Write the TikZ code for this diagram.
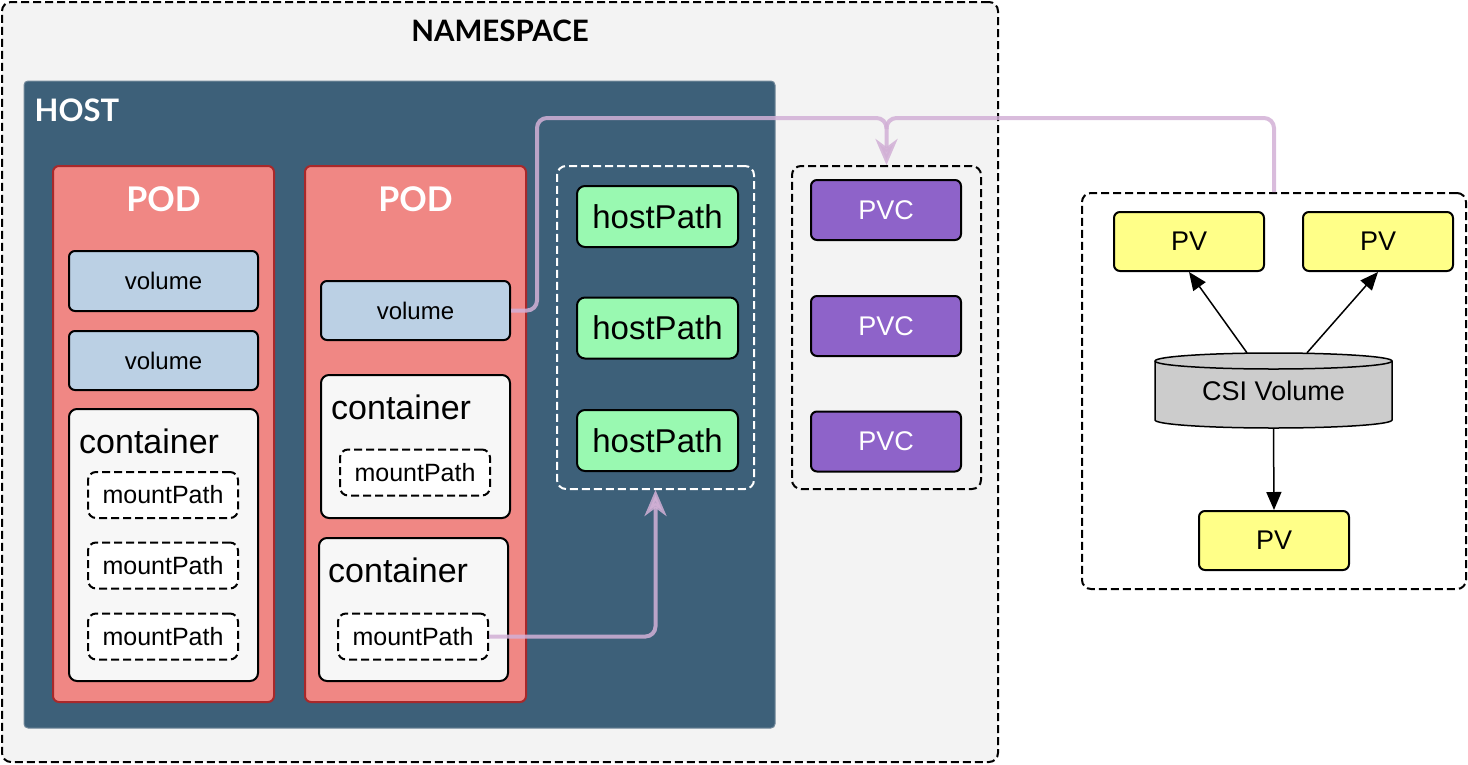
\documentclass[tikz,border=0pt]{standalone}
\usepackage{fontspec}
\setmainfont{Liberation Sans}
\newfontfamily\titlefont{Lato}
\usepackage{tikz}
\usetikzlibrary{positioning,arrows.meta}
\definecolor{nsfill}{HTML}{F3F3F3}
\definecolor{hostfill}{HTML}{3D6079}
\definecolor{hostline}{HTML}{71889A}
\definecolor{podfill}{HTML}{F08784}
\definecolor{podline}{HTML}{A8282A}
\definecolor{volfill}{HTML}{BBD0E4}
\definecolor{ctrfill}{HTML}{F7F7F7}
\definecolor{hpfill}{HTML}{99F9B1}
\definecolor{pvcfill}{HTML}{8E63C9}
\definecolor{pvfill}{HTML}{FFFF88}
\definecolor{cylfill}{HTML}{CCCCCC}
\definecolor{linkc}{HTML}{D2B0D6}
\tikzset{ttl/.style={font=\titlefont\bfseries\fontsize{34}{36}\selectfont,text=white,inner sep=0pt}}

\begin{document}
\begin{tikzpicture}[x=1pt,y=-1pt]
\tikzstyle{box}=[draw,line width=2pt,rounded corners=6pt,inner sep=0pt]
\tikzstyle{grp}=[box,dash pattern=on 8pt off 4pt,rounded corners=9pt]
\tikzstyle{volbox}=[box,fill=volfill,minimum width=189pt,font=\fontsize{24}{26}\selectfont]
\tikzstyle{ctrbox}=[box,fill=ctrfill,rounded corners=8pt,minimum width=189pt]
\tikzstyle{mntbox}=[grp,fill=white,rounded corners=8pt,minimum width=150pt,minimum height=46pt,font=\fontsize{25}{27}\selectfont]
\tikzstyle{ctrtxt}=[anchor=west,inner sep=0pt,font=\fontsize{34}{36}\selectfont]
\tikzstyle{hpbox}=[box,fill=hpfill,rounded corners=8pt,minimum width=161pt,minimum height=61pt,font=\fontsize{33}{35}\selectfont]
\tikzstyle{pvcbox}=[box,fill=pvcfill,minimum width=150pt,minimum height=60pt,text=white,font=\fontsize{27}{29}\selectfont]
\tikzstyle{pvbox}=[box,fill=pvfill,minimum width=150pt,minimum height=59pt,font=\fontsize{27}{29}\selectfont]
\tikzstyle{link}=[draw=linkc,draw opacity=0.85,fill opacity=0.85,line width=4pt,-{Stealth[length=26pt,width=22pt,inset=8pt,fill=linkc]}]
\tikzstyle{flow}=[line width=1.5pt,-{Triangle[length=18pt,width=15pt]}]

\useasboundingbox (0,0) rectangle (1468,764);

% namespace and host
\node[grp,fill=nsfill,minimum width=996pt,minimum height=760pt] (ns) at (500,382) {};
\node[ttl,text=black,font=\titlefont\bfseries\fontsize{29.5}{31}\selectfont] (nstitle) at ([yshift=-30pt]ns.north) {NAMESPACE};
\node[box,draw=hostline,line width=1pt,rounded corners=4pt,fill=hostfill,minimum width=751pt,minimum height=647pt] (host) at (399.5,404.5) {};
\node[ttl,anchor=west,font=\titlefont\bfseries\fontsize{31}{33}\selectfont] (hosttitle) at ([shift={(11pt,-30pt)}]host.north west) {HOST};

% pods
\node[box,draw=podline,fill=podfill,minimum width=221pt,minimum height=536pt] (pod1) at (163.5,434) {};
\node[box,draw=podline,fill=podfill,minimum width=221pt,minimum height=536pt] (pod2) at (415.5,434) {};
\node[ttl] (pod1title) at ([yshift=-34pt]pod1.north) {POD};
\node[ttl] (pod2title) at ([yshift=-34pt]pod2.north) {POD};

% first pod
\node[volbox,minimum height=60pt] (vol1) at (163.5,281) {volume};
\node[volbox,minimum height=59pt] (vol2) at (163.5,360.5) {volume};
\node[ctrbox,minimum height=272pt] (ctr1) at (163.5,545) {};
\node[ctrtxt] (ctr1txt) at ([shift={(11pt,-33pt)}]ctr1.north west) {container};
\node[mntbox] (mp1) at (163,495) {mountPath};
\node[mntbox] (mp2) at (163,565.5) {mountPath};
\node[mntbox] (mp3) at (163,636.5) {mountPath};

% second pod
\node[volbox,minimum height=59pt] (vol3) at (415.5,310.5) {volume};
\node[ctrbox,minimum height=143pt] (ctr2) at (415.5,446.5) {};
\node[ctrtxt] (ctr2txt) at ([shift={(11pt,-33pt)}]ctr2.north west) {container};
\node[mntbox] (mp4) at (415,472.5) {mountPath};
\node[ctrbox,minimum height=143pt] (ctr3) at (413.5,609.5) {};
\node[ctrtxt] (ctr3txt) at ([shift={(10pt,-33pt)}]ctr3.north west) {container};
\node[mntbox] (mp5) at (413,636.5) {mountPath};

% hostPath
\node[grp,draw=white,minimum width=197pt,minimum height=323pt] (hpgrp) at (655.5,327.5) {};
\node[hpbox] (hp1) at (657.5,216.5) {hostPath};
\node[hpbox] (hp2) at (657.5,328) {hostPath};
\node[hpbox] (hp3) at (657.5,440.5) {hostPath};

% PVC
\node[grp,minimum width=189pt,minimum height=323pt] (pvcgrp) at (886.5,327.5) {};
\node[pvcbox] (pvc1) at (886,210) {PVC};
\node[pvcbox] (pvc2) at (886,326) {PVC};
\node[pvcbox] (pvc3) at (886,441.5) {PVC};

% PV and CSI volume
\node[grp,minimum width=384pt,minimum height=396pt] (pvgrp) at (1274,391) {};
\node[pvbox] (pv1) at (1189,241.5) {PV};
\node[pvbox] (pv2) at (1378,241.5) {PV};
\node[pvbox] (pv3) at (1274,540.5) {PV};
\draw[fill=cylfill,line width=1.5pt] (1155,361) -- (1155,420)
  arc[start angle=180,end angle=360,x radius=118.5pt,y radius=8pt] -- (1392,361)
  arc[start angle=0,end angle=180,x radius=118.5pt,y radius=8pt] -- cycle;
\draw[line width=1.5pt] (1155,361) arc[start angle=180,end angle=360,x radius=118.5pt,y radius=8pt];
\node[minimum width=237pt,minimum height=75pt,inner sep=0pt,font=\fontsize{27}{29}\selectfont] (csi) at (1273.5,390.5) {\raisebox{-7pt}{CSI Volume}};

\draw[flow] ([xshift=-26.5pt]csi.north) -- (pv1.south);
\draw[flow] ([xshift=33.5pt]csi.north) -- (pv2.south);
\draw[flow] (csi.south) -- (pv3.north);

% links
\coordinate (join) at (886.5,118);
\draw[link,rounded corners=10pt] (vol3.east) -| (537,118) -- (join) -- (pvcgrp.north);
\draw[link,-,rounded corners=10pt] (pvgrp.north) |- (join) -- ([yshift=-11pt]join);
\draw[link,rounded corners=10pt] (mp5.east) -| (hpgrp.south);
\end{tikzpicture}
\end{document}
